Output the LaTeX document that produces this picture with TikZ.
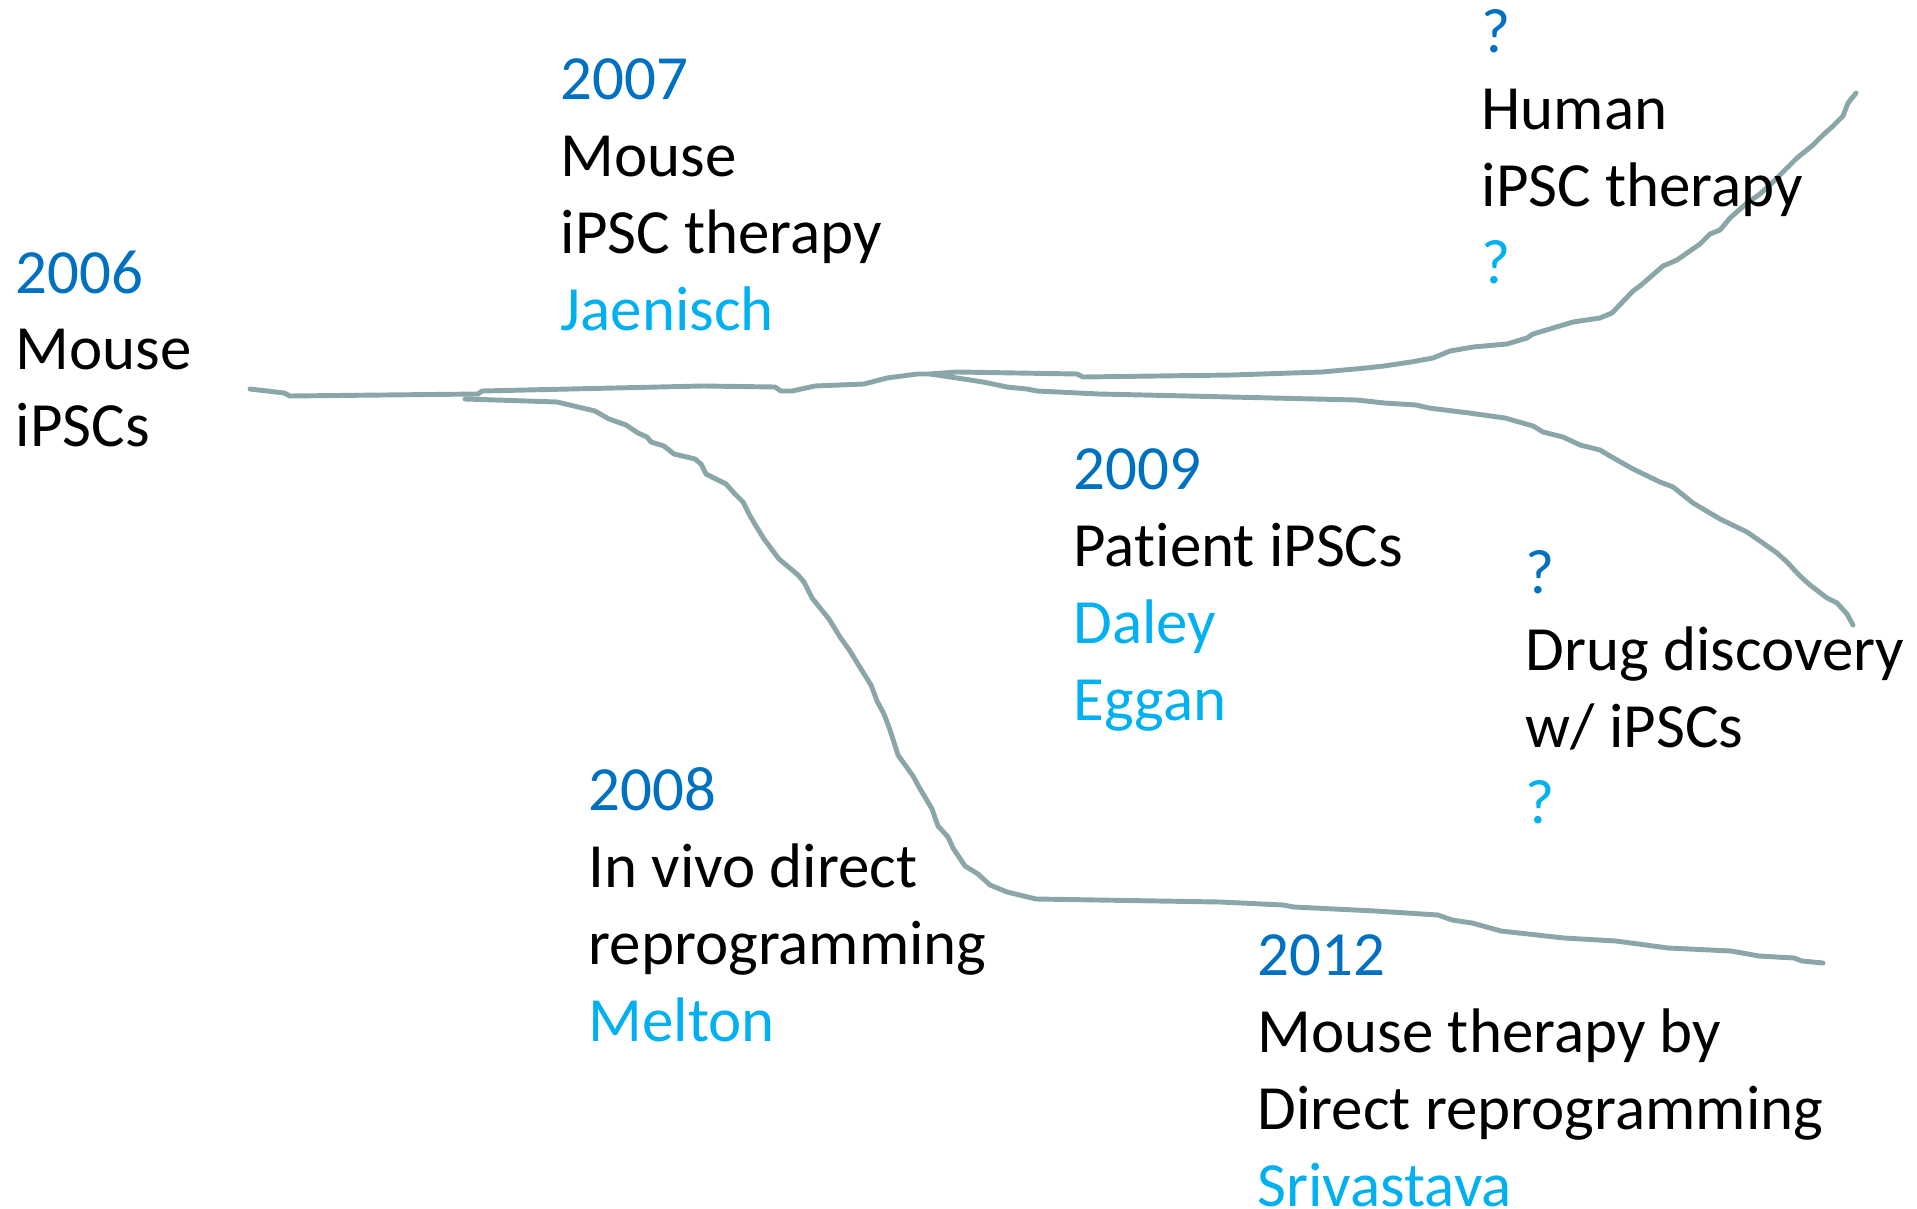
\documentclass[tikz,border=0pt]{standalone}
\usepackage{fontspec}
\setmainfont{Carlito}[Ligatures={NoCommon,NoContextual}]
\definecolor{yearblue}{RGB}{0,112,192}
\definecolor{nameblue}{RGB}{0,176,240}
\definecolor{branchgray}{RGB}{139,166,168}
\begin{document}
\begin{tikzpicture}[
  x=0.01cm, y=-0.01cm,
  every node/.style={anchor=base west, inner sep=0pt, font=\fontsize{17.9}{21}\selectfont},
  yr/.style={text=yearblue},
  who/.style={text=nameblue},
  lab/.style={text=black},
  branch/.style={draw=branchgray, line width=1.4pt, line join=round, line cap=round}
]
  \useasboundingbox (0,0) rectangle (1917,1209);

  % fork points
  \coordinate (fork08) at (478,394);
  \coordinate (split08) at (465,399);
  \coordinate (fork09) at (930,374);

  % trunk
  \draw[branch] (250,389) -- (284,393) -- (290,396) -- (fork08);
  % upper branch: human iPSC therapy
  \draw[branch] (fork08) -- (482,391) -- (703,386) -- (775,387) -- (781,391) -- (792,391)
    -- (815,386) -- (864,384) -- (887,378) -- (917,374) -- (fork09) -- (957,372) -- (1077,374)
    -- (1083,377) -- (1232,375) -- (1322,372) -- (1366,368) -- (1384,366) -- (1411,362)
    -- (1433,358) -- (1450,351) -- (1473,347) -- (1507,344) -- (1527,338) -- (1533,334)
    -- (1573,322) -- (1600,318) -- (1612,313) -- (1633,291) -- (1640,286) -- (1663,266)
    -- (1677,260) -- (1687,253) -- (1700,244) -- (1710,234) -- (1720,230) -- (1730,218)
    -- (1747,203) -- (1760,194) -- (1773,182) -- (1787,168) -- (1797,158) -- (1813,145)
    -- (1823,135) -- (1833,126) -- (1843,116) -- (1848,103) -- (1856,93);
  % 2009 branch: drug discovery
  \draw[branch] (fork09) -- (957,378) -- (983,382) -- (1007,387) -- (1027,389) -- (1037,391)
    -- (1099,394) -- (1188,396) -- (1357,400) -- (1384,403) -- (1416,405) -- (1429,408)
    -- (1469,413) -- (1505,418) -- (1533,426) -- (1543,432) -- (1563,437) -- (1580,445)
    -- (1600,450) -- (1610,456) -- (1633,469) -- (1660,482) -- (1673,487) -- (1693,503)
    -- (1720,519) -- (1747,532) -- (1760,541) -- (1777,553) -- (1787,562) -- (1800,576)
    -- (1810,585) -- (1827,598) -- (1837,603) -- (1847,614) -- (1853,625);
  % 2008 branch: direct reprogramming
  \draw[branch] (split08) -- (557,402) -- (595,411) -- (609,419) -- (626,425) -- (638,433)
    -- (647,437) -- (651,442) -- (664,446) -- (674,454) -- (695,459) -- (701,464) -- (706,474)
    -- (726,484) -- (735,494) -- (743,502) -- (749,514) -- (756,526) -- (764,539) -- (779,559)
    -- (798,575) -- (804,582) -- (812,598) -- (829,619) -- (840,637) -- (850,651) -- (861,669)
    -- (871,685) -- (877,701) -- (884,714) -- (890,730) -- (898,755) -- (913,776) -- (919,787)
    -- (932,809) -- (938,826) -- (948,837) -- (953,848) -- (965,866) -- (978,874) -- (990,885)
    -- (1007,892) -- (1036,899) -- (1220,902) -- (1283,905) -- (1294,907) -- (1375,911)
    -- (1438,915) -- (1452,920) -- (1472,923) -- (1501,931) -- (1564,938) -- (1616,941)
    -- (1668,948) -- (1731,951) -- (1759,956) -- (1794,958) -- (1802,961) -- (1823,963);

  % 2006
  \node[yr]  (y06)  at (15,293) {2006};
  \node[lab] (t06a) at (15,369) {Mouse};
  \node[lab] (t06b) at (15,446) {iPSCs};

  % 2007
  \node[yr]  (y07)  at (560,99)  {2007};
  \node[lab] (t07a) at (560,176) {Mouse};
  \node[lab] (t07b) at (560,253) {iPSC therapy};
  \node[who] (w07)  at (560,330) {Jaenisch};

  % 2008
  \node[yr]  (y08)  at (588,810)  {2008};
  \node[lab] (t08a) at (588,887)  {In vivo direct};
  \node[lab] (t08b) at (588,964)  {reprogramming};
  \node[who] (w08)  at (588,1041) {Melton};

  % 2009
  \node[yr]  (y09)  at (1073,489) {2009};
  \node[lab] (t09a) at (1073,566) {Pat\kern0pt ient iPSCs};
  \node[who] (w09a) at (1073,643) {Daley};
  \node[who] (w09b) at (1073,720) {Eggan};

  % 2012
  \node[yr]  (y12)  at (1257,975)  {2012};
  \node[lab] (t12a) at (1257,1052) {Mouse therapy by};
  \node[lab] (t12b) at (1257,1129) {Direct reprogramming};
  \node[who] (w12)  at (1257,1206) {Srivastava};

  % open questions
  \node[yr]  (qh1)  at (1481,52)  {?};
  \node[lab] (tha)  at (1481,129) {Human};
  \node[lab] (thb)  at (1481,206) {iPSC therapy};
  \node[who] (qh2)  at (1481,283) {?};

  \node[yr]  (qd1)  at (1525,593) {?};
  \node[lab] (tda)  at (1525,670) {Drug discovery};
  \node[lab] (tdb)  at (1525,747) {w/ iPSCs};
  \node[who] (qd2)  at (1525,823) {?};
\end{tikzpicture}
\end{document}
